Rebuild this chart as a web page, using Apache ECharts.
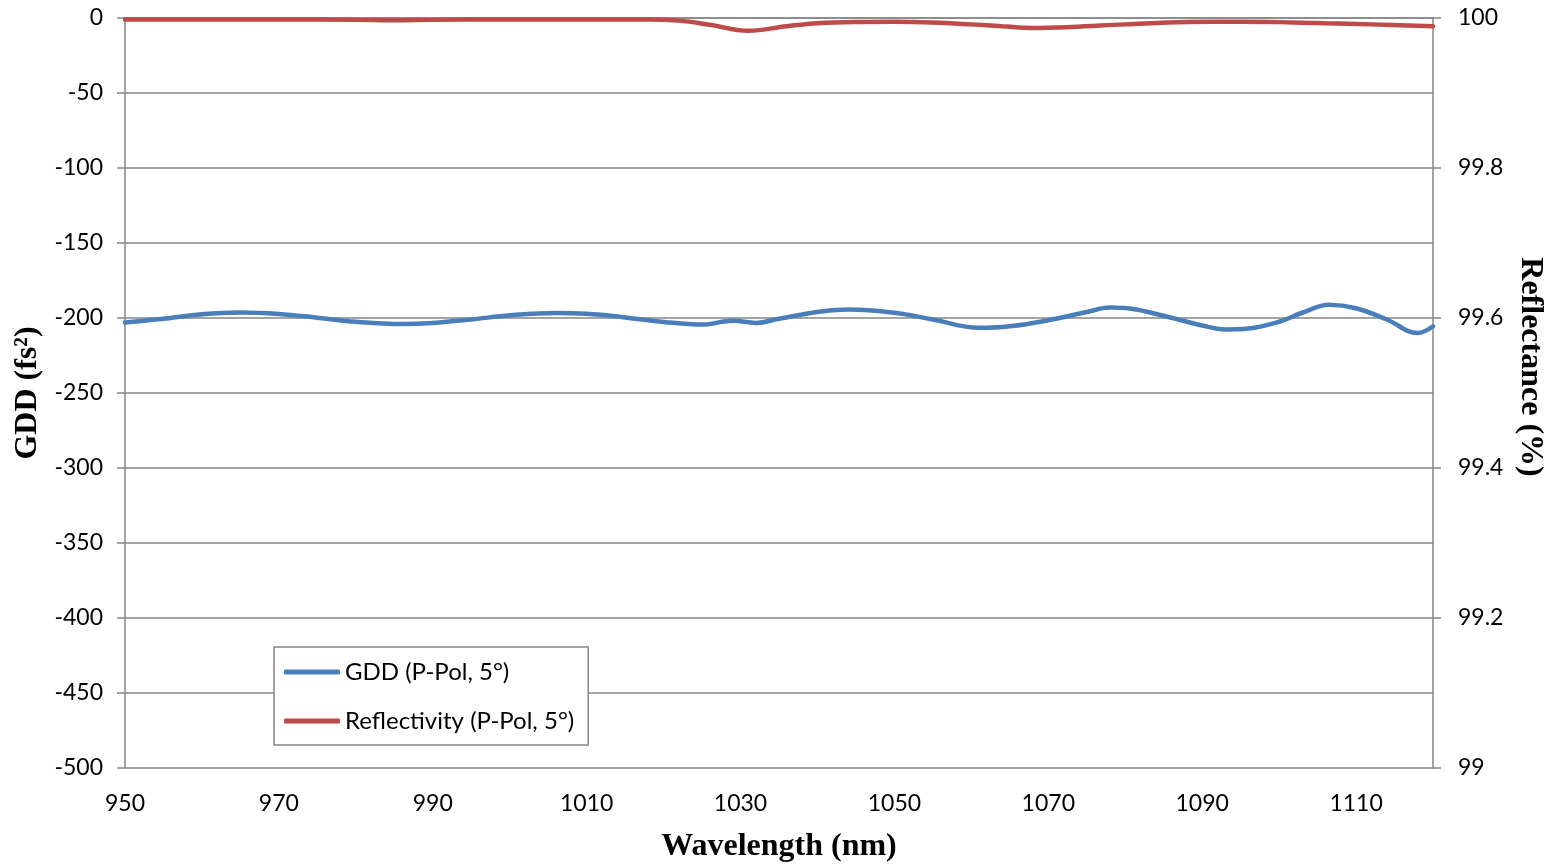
<!DOCTYPE html>
<html>
<head>
<meta charset="utf-8">
<script src="https://cdn.jsdelivr.net/npm/echarts@6/dist/echarts.min.js"></script>
<style>
html,body{margin:0;padding:0;background:#fff;}
#chart{width:1555px;height:865px;}
</style>
</head>
<body>
<div id="chart"></div>
<script>
// Data
const gddWavelengths = [950, 955, 960, 965, 970, 975, 980, 986, 990, 995, 1000, 1006, 1010, 1015, 1020, 1025, 1029, 1032, 1035, 1040, 1044, 1050, 1055, 1061, 1065, 1070, 1075, 1078, 1081, 1085, 1090, 1093, 1096, 1100, 1103, 1106.5, 1110, 1114, 1118, 1120];
const gddValues      = [-203, -200.5, -197.5, -196.3, -197.3, -199.8, -202.5, -204, -203.3, -201, -198.2, -196.6, -197.2, -199.6, -202.6, -204.4, -201.8, -203.3, -200.5, -196, -194.3, -196.5, -201, -206.5, -205.5, -201.5, -196, -193, -194, -198.5, -205, -207.6, -207, -202.5, -196.5, -191.2, -193.5, -201, -210, -205.5];

const reflWavelengths = [950, 960, 970, 980, 985, 990, 1000, 1010, 1018, 1022, 1026, 1031, 1036, 1040, 1045, 1050, 1055, 1060, 1064, 1068, 1073, 1080, 1088, 1095, 1100, 1106, 1112, 1120];
const reflValues      = [99.998, 99.998, 99.998, 99.9975, 99.997, 99.9975, 99.998, 99.998, 99.998, 99.9965, 99.991, 99.983, 99.989, 99.993, 99.9947, 99.995, 99.994, 99.9915, 99.989, 99.9867, 99.988, 99.9915, 99.9947, 99.995, 99.9945, 99.993, 99.9915, 99.989];

const xTicks = { min: 950, max: 1120, interval: 20 };
const gddTicks = { min: -500, max: 0, interval: 50 };
const reflTicks = { min: 99, max: 100, interval: 0.2 };

const seriesNames = ['GDD (P-Pol, 5°)', 'Reflectivity (P-Pol, 5°)'];
const axisTitles = { x: 'Wavelength (nm)', left: 'GDD (fs²)', right: 'Reflectance (%)' };

const gray = '#868686';
const labelFont = { fontFamily: 'Lato, "Open Sans", sans-serif', fontSize: 23, color: '#000' };
const titleFont = { fontFamily: '"Liberation Serif", "DejaVu Serif", serif', fontWeight: 'bold', fontSize: 32, color: '#000' };

const chart = echarts.init(document.getElementById('chart'));
chart.setOption({
  animation: false,
  backgroundColor: '#fff',
  grid: { left: 125, right: 122, top: 18, bottom: 97, containLabel: false, outerBoundsMode: 'none' },
  legend: {
    orient: 'vertical',
    left: 274, top: 647,
    padding: [11, 14, 10, 10],
    itemGap: 21,
    itemWidth: 56, itemHeight: 5,
    icon: 'roundRect',
    backgroundColor: '#fff',
    borderColor: gray, borderWidth: 1.5,
    textStyle: Object.assign({}, labelFont, { fontSize: 24, lineHeight: 28 }),
    data: seriesNames
  },
  xAxis: {
    type: 'value',
    min: xTicks.min, max: xTicks.max, interval: xTicks.interval,
    name: axisTitles.x, nameLocation: 'middle', nameGap: 63,
    nameTextStyle: titleFont,
    axisLine: { lineStyle: { color: gray, width: 1.5 } },
    axisTick: { show: false },
    axisLabel: Object.assign({}, labelFont, { margin: 24, showMaxLabel: false, formatter: v => String(v) }),
    splitLine: { show: false }
  },
  yAxis: [
    {
      type: 'value', position: 'left',
      min: gddTicks.min, max: gddTicks.max, interval: gddTicks.interval,
      name: axisTitles.left, nameLocation: 'middle', nameGap: 80,
      nameTextStyle: titleFont,
      axisLine: { show: true, lineStyle: { color: gray, width: 1.5 } },
      axisTick: { show: true, length: 8, lineStyle: { color: gray, width: 1.5 } },
      axisLabel: Object.assign({}, labelFont, { margin: 22, formatter: v => String(v) }),
      splitLine: { show: true, lineStyle: { color: gray, width: 1.5 } }
    },
    {
      type: 'value', position: 'right',
      min: reflTicks.min, max: reflTicks.max, interval: reflTicks.interval,
      name: axisTitles.right, nameLocation: 'middle', nameGap: 73, nameRotate: -90,
      nameTextStyle: Object.assign({}, titleFont, { padding: [0, 52, 0, 0] }),
      axisLine: { show: true, lineStyle: { color: gray, width: 1.5 } },
      axisTick: { show: true, length: 8, lineStyle: { color: gray, width: 1.5 } },
      axisLabel: Object.assign({}, labelFont, { margin: 25, formatter: v => String(Math.round(v * 10) / 10) }),
      splitLine: { show: false }
    }
  ],
  series: [
    {
      name: seriesNames[0], type: 'line', yAxisIndex: 0,
      smooth: 0.4, symbol: 'none',
      lineStyle: { color: '#4A7EBB', width: 4.5, cap: 'round' },
      itemStyle: { color: '#4A7EBB' },
      data: gddWavelengths.map((w, i) => [w, gddValues[i]])
    },
    {
      name: seriesNames[1], type: 'line', yAxisIndex: 1,
      smooth: 0.4, symbol: 'none',
      lineStyle: { color: '#BE4B48', width: 4.5, cap: 'round' },
      itemStyle: { color: '#BE4B48' },
      data: reflWavelengths.map((w, i) => [w, reflValues[i]])
    }
  ]
});
</script>
</body>
</html>
